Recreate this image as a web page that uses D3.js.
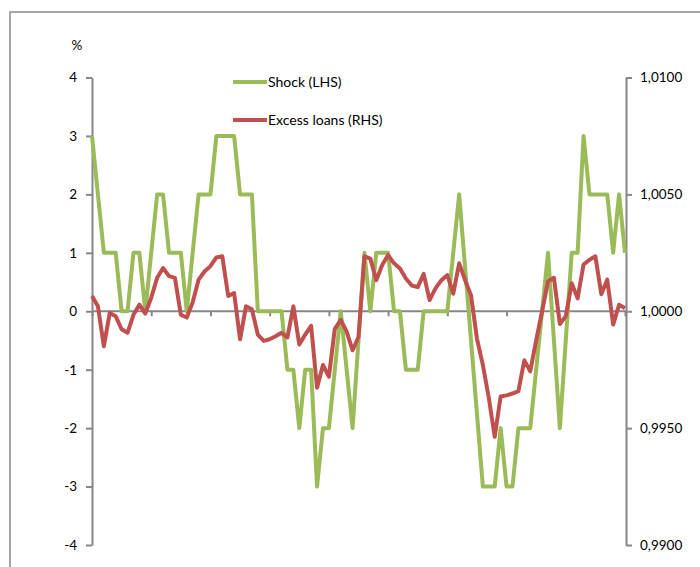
<!DOCTYPE html>
<html>
<head>
<meta charset="utf-8">
<script src="https://cdn.jsdelivr.net/npm/d3@7"></script>
<style>
  html, body { margin: 0; padding: 0; background: #ffffff; }
  svg { display: block; font-family: Lato, "Noto Sans", sans-serif; }
</style>
</head>
<body>
<svg id="chart" width="700" height="567"></svg>
<script>
// ---- data ----
const periods = d3.range(91);
const shock = [3,2,1,1,1,0,0,1,1,0, 1,2,2,1,1,1,0,1,2,2, 2,3,3,3,3,2,2,2,0,0,
  0,0,0,-1,-1,-2,-1,-1,-3,-2, -2,-1,0,-1,-2,-0.5,1,0,1,1, 1,0,0,-1,-1,-1,0,0,0,0,
  0,1,2,0.75,-0.5,-1.75,-3,-3,-3,-2, -3,-3,-2,-2,-2,-1,0,1,-0.5,-2, -0.5,1,1,3,2,2,2,2,1,2, 1];
const excessLoans = [1.00065,1.00021,0.99850,0.99993,0.99979,0.99923,0.99908,0.99985,1.00028,0.99990,
  1.00058,1.00143,1.00185,1.00150,1.00143,0.99985,0.99973,1.00038,1.00135,1.00170,
  1.00193,1.00230,1.00235,1.00065,1.00078,0.99880,1.00021,1.00008,0.99900,0.99873,
  0.99880,0.99893,0.99908,0.99888,1.00021,0.99858,0.99900,0.99938,0.99673,0.99770,
  0.99720,0.99925,0.99963,0.99913,0.99833,0.99890,1.00235,1.00225,1.00133,1.00198,
  1.00240,1.00205,1.00183,1.00140,1.00110,1.00103,1.00160,1.00048,1.00098,1.00133,
  1.00155,1.00075,1.00205,1.00133,1.00068,0.99883,0.99770,0.99630,0.99463,0.99635,
  0.99640,0.99648,0.99658,0.99790,0.99743,0.99875,1.00000,1.00128,1.00143,0.99945,
  0.99979,1.00120,1.00055,1.00200,1.00220,1.00235,1.00073,1.00135,0.99943,1.00028,
  1.00013];
const leftTicks = [4,3,2,1,0,-1,-2,-3,-4];
const rightTicks = [1.0100,1.0050,1.0000,0.9950,0.9900];
const seriesNames = ["Shock (LHS)", "Excess loans (RHS)"];
const seriesColors = ["#9BBB59", "#C0504D"];

// ---- layout ----
const svg = d3.select("#chart");
const L = 92, R = 625, T = 77.5, B = 545;

// outer frame
svg.append("rect").attr("x", 10).attr("y", 12).attr("width", 720).attr("height", 600)
  .attr("fill", "none").attr("stroke", "#8a8a8a").attr("stroke-width", 1.5);

const x = d3.scaleLinear().domain([0, periods.length - 1]).range([L, R]);
const yL = d3.scaleLinear().domain([-4, 4]).range([B, T]);
const yR = d3.scaleLinear().domain([0.99, 1.01]).range([B, T]);

const axisColor = "#868686";

// left axis
const gL = svg.append("g").attr("transform", `translate(${L},0)`)
  .call(d3.axisLeft(yL).tickValues(leftTicks).tickSize(6).tickSizeOuter(0).tickPadding(9)
    .tickFormat(d => d3.format("d")(d).replace("−", "-")));
// right axis
const gR = svg.append("g").attr("transform", `translate(${R + 1},0)`)
  .call(d3.axisRight(yR).tickValues(rightTicks).tickSize(6).tickSizeOuter(0).tickPadding(8)
    .tickFormat(d => d3.format(".4f")(d).replace(".", ",")));
// category axis on zero line
const gX = svg.append("g").attr("transform", `translate(0,${yL(0)})`)
  .call(d3.axisBottom(x).tickValues(d3.range(0, periods.length, 10)).tickSize(5).tickSizeOuter(0).tickFormat(""));

[gL, gR, gX].forEach(g => {
  g.selectAll(".domain").attr("stroke", axisColor).attr("stroke-width", 2);
  g.selectAll(".tick line").attr("stroke", axisColor).attr("stroke-width", 2);
  g.selectAll("text").attr("fill", "#000").style("font-size", "13.5px")
    .style("font-family", "Lato, 'Noto Sans', sans-serif");
});
gX.select(".domain").attr("d", `M${L},0H${R + 1}`);

// unit label
svg.append("text").attr("x", 77).attr("y", 50).attr("text-anchor", "middle")
  .style("font-size", "13.5px").text("%");

// lines
const lineL = d3.line().x((d, i) => x(i)).y(d => yL(d));
const lineR = d3.line().x((d, i) => x(i)).y(d => yR(d));
svg.append("path").datum(shock).attr("d", lineL).attr("fill", "none")
  .attr("stroke", seriesColors[0]).attr("stroke-width", 4).attr("stroke-linejoin", "round");
svg.append("path").datum(excessLoans).attr("d", lineR).attr("fill", "none")
  .attr("stroke", seriesColors[1]).attr("stroke-width", 4).attr("stroke-linejoin", "round");

// legend
seriesNames.forEach((name, k) => {
  const yy = 82 + k * 38;
  svg.append("line").attr("x1", 233).attr("x2", 267).attr("y1", yy).attr("y2", yy)
    .attr("stroke", seriesColors[k]).attr("stroke-width", 4);
  svg.append("text").attr("x", 268).attr("y", yy + 5).style("font-size", "14px").text(name);
});
</script>
</body>
</html>
